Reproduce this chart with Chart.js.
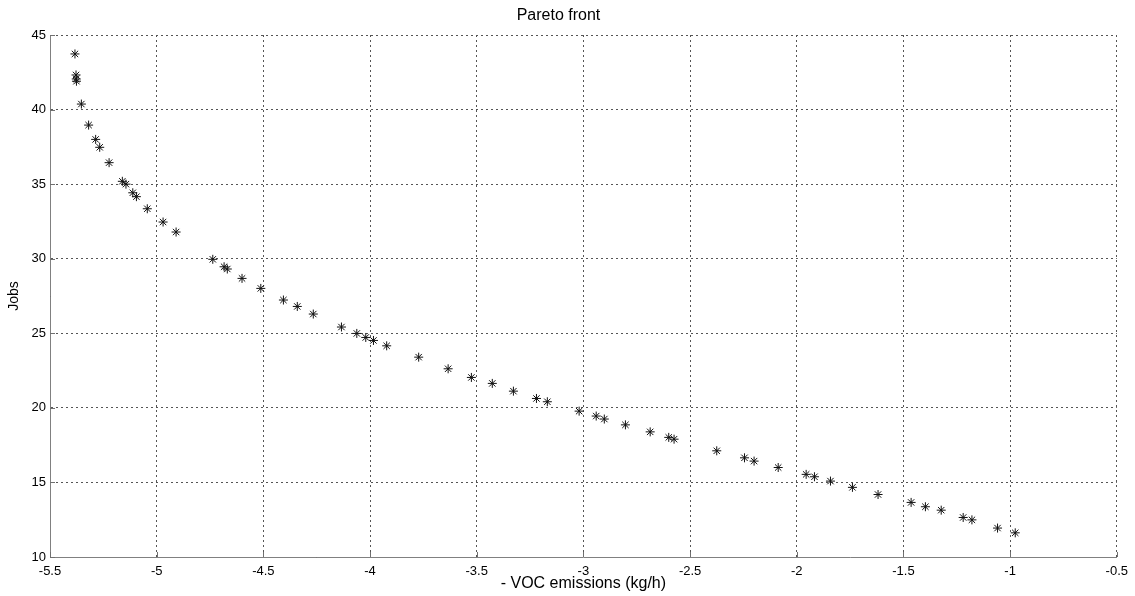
<!DOCTYPE html>
<html>
<head>
<meta charset="utf-8">
<script src="https://cdn.jsdelivr.net/npm/chart.js@4"></script>
<style>
html,body{margin:0;padding:0;background:#fff;}
#wrap{width:1135px;height:596px;position:relative;}
</style>
</head>
<body>
<div id="wrap"><canvas id="c" width="1135" height="596"></canvas></div>
<script>
const chartTitle = "Pareto front";
const xLabel = "- VOC emissions (kg/h)";
const yLabel = "Jobs";
const xTickValues = [-5.5, -5, -4.5, -4, -3.5, -3, -2.5, -2, -1.5, -1, -0.5];
const yTickValues = [10, 15, 20, 25, 30, 35, 40, 45];
const vocValues = [
  -5.383, -5.378, -5.377, -5.376, -5.353, -5.319, -5.286, -5.267, -5.223,
  -5.161, -5.144, -5.112, -5.095, -5.044, -4.970, -4.909,
  -4.737, -4.684, -4.669, -4.600, -4.512, -4.406, -4.341, -4.266,
  -4.134, -4.062, -4.020, -3.984, -3.922, -3.772, -3.634, -3.525,
  -3.427, -3.328, -3.220, -3.169, -3.020, -2.940, -2.902, -2.803,
  -2.687, -2.600, -2.575, -2.375, -2.245, -2.200, -2.087, -1.956,
  -1.917, -1.842, -1.739, -1.619, -1.464, -1.397, -1.323, -1.220,
  -1.179, -1.059, -0.976
];
const jobsValues = [
  43.73, 42.32, 42.05, 41.90, 40.37, 38.96, 38.00, 37.47, 36.44,
  35.19, 35.00, 34.42, 34.16, 33.35, 32.46, 31.79,
  29.96, 29.46, 29.31, 28.68, 28.01, 27.23, 26.80, 26.29,
  25.42, 24.99, 24.72, 24.52, 24.16, 23.40, 22.62, 22.04,
  21.64, 21.12, 20.63, 20.41, 19.78, 19.45, 19.25, 18.86,
  18.39, 18.02, 17.90, 17.12, 16.65, 16.43, 16.00, 15.54,
  15.38, 15.09, 14.67, 14.19, 13.66, 13.37, 13.14, 12.65,
  12.49, 11.94, 11.62
];

const points = vocValues.map((x, i) => ({x: x, y: jobsValues[i]}));
const FONT = "'Liberation Sans', Arial, sans-serif";

const bgPlugin = {
  id: 'bg',
  beforeDraw(chart) {
    const ctx = chart.ctx;
    ctx.save();
    ctx.fillStyle = '#fff';
    ctx.fillRect(0, 0, chart.width, chart.height);
    ctx.restore();
  }
};

// MATLAB-style inward tick marks along the bottom and left axes
const innerTicks = {
  id: 'innerTicks',
  afterDatasetsDraw(chart) {
    const {ctx, chartArea: a, scales} = chart;
    ctx.save();
    ctx.strokeStyle = '#707070';
    ctx.lineWidth = 1;
    ctx.setLineDash([]);
    ctx.beginPath();
    scales.x.ticks.forEach(t => {
      const px = Math.round(scales.x.getPixelForValue(t.value)) + 0.5;
      ctx.moveTo(px, a.bottom);
      ctx.lineTo(px, a.bottom - 5);
    });
    scales.y.ticks.forEach(t => {
      const py = Math.round(scales.y.getPixelForValue(t.value)) + 0.5;
      ctx.moveTo(a.left, py);
      ctx.lineTo(a.left + 5, py);
    });
    ctx.stroke();
    ctx.restore();
  }
};

new Chart(document.getElementById('c'), {
  type: 'scatter',
  data: {
    datasets: [{
      data: points,
      pointStyle: 'star',
      radius: 4.5,
      borderColor: '#111',
      backgroundColor: '#111',
      borderWidth: 1
    }]
  },
  options: {
    responsive: false,
    animation: false,
    layout: {padding: {left: 0, right: 18, top: 0, bottom: 0}},
    plugins: {
      legend: {display: false},
      tooltip: {enabled: false},
      title: {
        display: true,
        text: chartTitle,
        color: '#000',
        font: {family: FONT, size: 16, weight: 'normal'},
        padding: {top: 6, bottom: 9.8}
      }
    },
    scales: {
      x: {
        type: 'linear',
        min: -5.5, max: -0.5,
        afterBuildTicks: s => { s.ticks = xTickValues.map(v => ({value: v})); },
        afterFit: s => { s.height = 39; },
        ticks: {
          color: '#000',
          font: {family: FONT, size: 13},
          padding: 7,
          maxRotation: 0,
          autoSkip: false,
          callback: v => String(v)
        },
        grid: {color: '#555', lineWidth: 1, drawTicks: false},
        border: {display: true, color: '#808080', width: 1, dash: [2, 3]},
        title: {
          display: true, text: xLabel, color: '#000',
          font: {family: FONT, size: 16}, padding: {top: 0, bottom: 3}
        }
      },
      y: {
        type: 'linear',
        min: 10, max: 45,
        afterBuildTicks: s => { s.ticks = yTickValues.map(v => ({value: v})); },
        afterFit: s => { s.width = 50; },
        ticks: {
          color: '#000',
          font: {family: FONT, size: 13},
          padding: 4,
          autoSkip: false,
          callback: v => String(v)
        },
        grid: {color: '#555', lineWidth: 1, drawTicks: false},
        border: {display: true, color: '#808080', width: 1, dash: [2, 3]},
        title: {
          display: true, text: yLabel, color: '#000',
          font: {family: FONT, size: 14}, padding: {top: 6, bottom: 0}
        }
      }
    }
  },
  plugins: [bgPlugin, innerTicks]
});
</script>
</body>
</html>
